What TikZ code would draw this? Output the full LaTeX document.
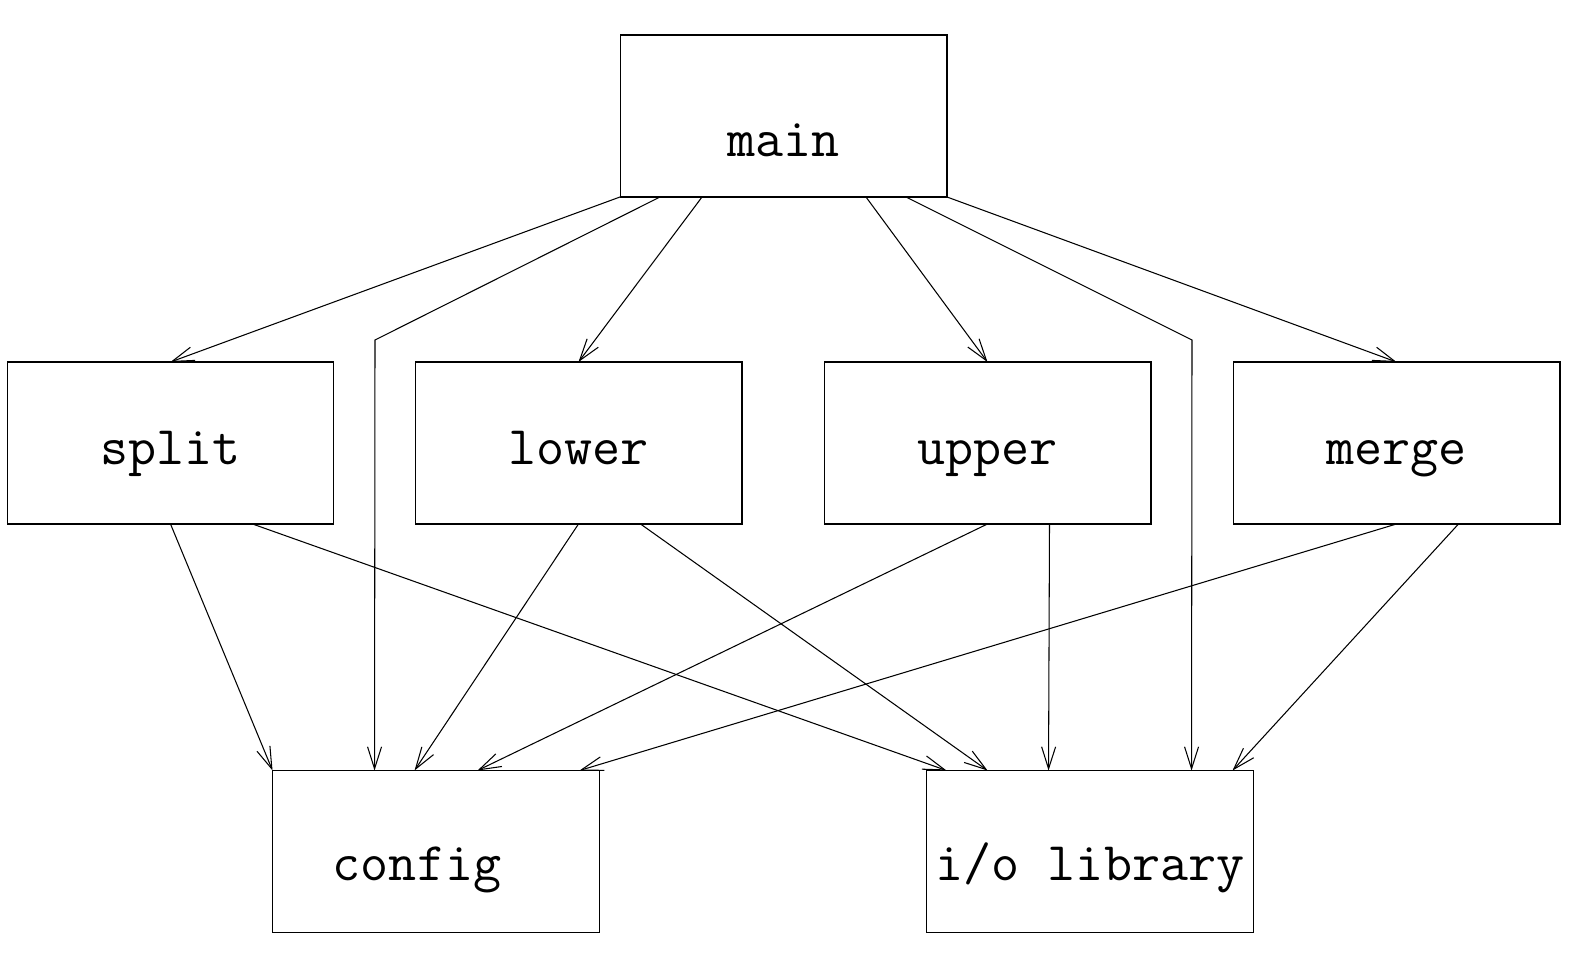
\documentclass[tikz,border=0pt]{standalone}
\usepackage{fontspec}
\usetikzlibrary{arrows.meta,calc}
\tikzset{
  module/.style={draw, line width=0.6pt, minimum width=6.54cm, minimum height=3.24cm,
    inner sep=0pt, outer sep=0pt, font=\ttfamily\fontsize{31}{36}\selectfont,
    text height=0.88cm, text depth=0cm},
  dep/.style={line width=0.6pt, -{Straight Barb[length=0.44cm,width=0.28cm]}}
}
\begin{document}
\begin{tikzpicture}[x=0.02cm,y=-0.02cm]
            \useasboundingbox (0,0) rectangle (1583,976);
            \node[module, text height=1.64cm] (M) at (783.5,116) {main};
            \node[module] (S) at (170.5,443) {split};
            \node[module] (L) at (578.5,443) {lower};
            \node[module] (U) at (987.5,443) {upper};
            \node[module] (G) at (1396.5,443) {merge};
            \node[module, text height=1.16cm] (C) at (436,851.5) {config\hspace*{0.76cm}};
            \node[module, text height=1.16cm] (I) at (1090,851.5) {i/o library};
            
            \coordinate (P) at (375,340);
            \coordinate (Q) at (1192,340);
            
            % main
            \draw[dep] (M.south west) -- (S.north);
            \draw[dep] ($(M.south west)+(40,0)$) -- (P) -- ($(C.north west)+(102,0)$);
            \draw[dep] ($(M.south west)+(82,0)$) -- (L.north);
            \draw[dep] ($(M.south east)+(-81,0)$) -- (U.north);
            \draw[dep] ($(M.south east)+(-41,0)$) -- (Q) -- ($(I.north west)+(265,0)$);
            \draw[dep] (M.south east) -- (G.north);
            
            % second row
            \draw[dep] (S.south) -- (C.north west);
            \draw[dep] ($(S.south)+(82,0)$) -- ($(I.north west)+(20,0)$);
            \draw[dep] (L.south) -- ($(C.north west)+(142,0)$);
            \draw[dep] ($(L.south)+(62,0)$) -- ($(I.north west)+(61,0)$);
            \draw[dep] (U.south) -- ($(C.north west)+(205,0)$);
            \draw[dep] ($(U.south)+(62,0)$) -- ($(I.north west)+(122,0)$);
            \draw[dep] (G.south) -- ($(C.north west)+(307,0)$);
            \draw[dep] ($(G.south)+(62,0)$) -- ($(I.north west)+(306,0)$);
          \end{tikzpicture}
\end{document}
